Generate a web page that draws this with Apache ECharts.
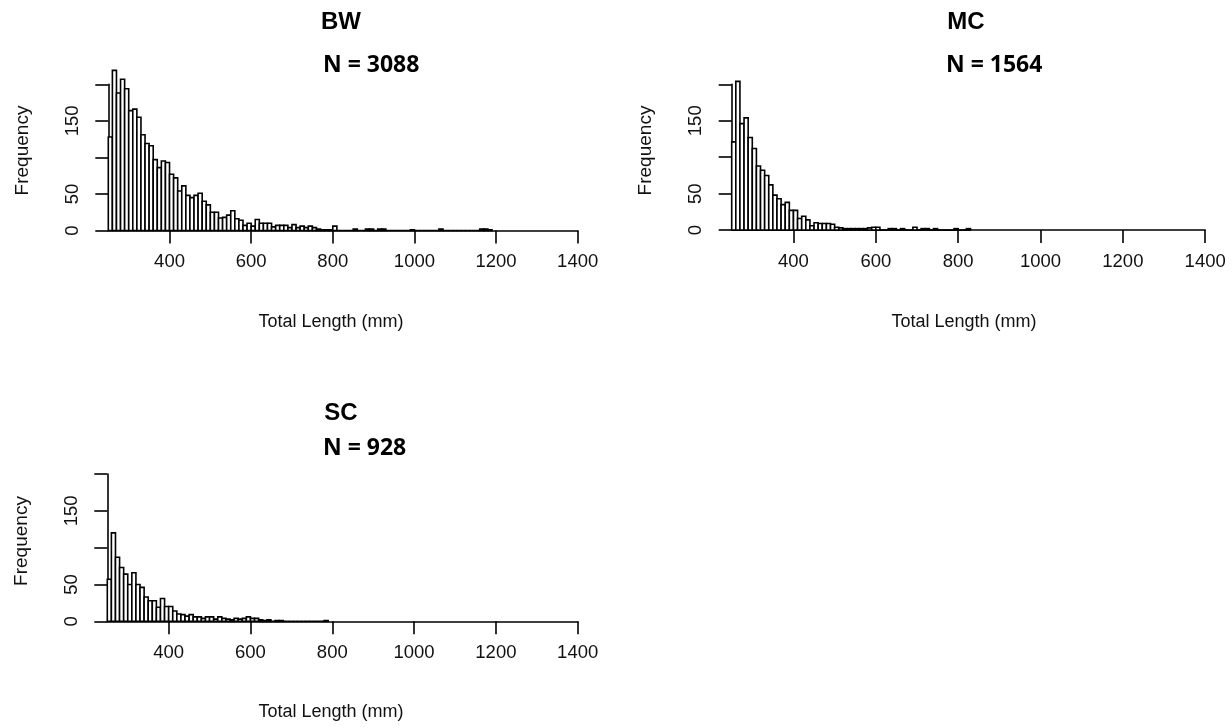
<!DOCTYPE html>
<html>
<head>
<meta charset="utf-8">
<script src="https://cdn.jsdelivr.net/npm/echarts@6/dist/echarts.min.js"></script>
<style>
html,body{margin:0;padding:0;background:#fff;}
#c{width:1232px;height:728px;}
</style>
</head>
<body>
<div id="c"></div>
<script>
// Histogram bins: 10 mm wide, first bin starts at 250 mm
const binStart = 250;
const binWidth = 10;
const panels = ['BW', 'MC', 'SC'];
const nLabels = ['N = 3088', 'N = 1564', 'N = 928'];
const xTicks = [400, 600, 800, 1000, 1200, 1400];
const yTicks = [0, 50, 100, 150, 200];
const yLabels = [0, 50, 150];
const xTitle = 'Total Length (mm)';
const yTitle = 'Frequency';

const countsBW = [128, 219, 188, 207, 194, 164, 166, 155, 131, 119, 116, 97, 86, 95, 93,
  77, 72, 54, 61, 48, 45, 48, 51, 40, 35,
  25, 25, 17, 18, 21, 27, 16, 14, 7, 10,
  6, 15, 10, 10, 10, 5, 7, 7, 7, 4,
  8, 4, 6, 4, 6, 4, 2, 1, 1, 1,
  6, 0, 0, 0, 0, 2, 0, 0, 2, 2,
  0, 2, 2, 0, 0, 0, 0, 0, 0, 1,
  0, 0, 0, 0, 0, 0, 2, 0, 0, 0,
  0, 0, 0, 0, 0, 0, 2, 2, 1];
const countsMC = [121, 204, 146, 154, 127, 112, 88, 82, 75, 62, 48, 43, 35, 38, 27,
  27, 16, 19, 14, 6, 10, 9, 9, 9, 8,
  4, 3, 2, 2, 2, 2, 2, 2, 3, 4,
  4, 0, 0, 2, 2, 0, 2, 0, 0, 4,
  0, 2, 2, 0, 2, 0, 0, 0, 0, 2,
  0, 0, 2];
const countsSC = [57, 120, 87, 73, 64, 50, 66, 50, 46, 33, 28, 28, 19, 31, 20,
  20, 14, 10, 9, 7, 9, 6, 6, 4, 6,
  6, 3, 6, 4, 3, 2, 4, 3, 4, 6,
  4, 4, 2, 1, 2, 0, 1, 1, 0, 0,
  0, 0, 0, 0, 0, 0, 0, 0, 1];
const allCounts = [countsBW, countsMC, countsSC];

// layout (pixels)
const grids = [
  {left: 108.3, top: 84.3, width: 469.4, height: 146.2},
  {left: 731.7, top: 84.3, width: 473.5, height: 145.8},
  {left: 107.3, top: 474.0, width: 470.4, height: 147.3}
];

const FONT = '"Liberation Sans", Arial, sans-serif';
const AX = '#000';
const LW = 1.6;

const option = {
  animation: false,
  backgroundColor: '#fff',
  grid: grids.map(g => Object.assign({containLabel: false, outerBoundsMode: 'none'}, g)),
  xAxis: grids.map((g, i) => ({
    type: 'value', gridIndex: i, min: 250, max: 1400,
    splitLine: {show: false},
    axisLine: {show: true, onZero: false, lineStyle: {color: AX, width: LW}},
    axisTick: {show: true, customValues: xTicks, length: 13, lineStyle: {color: AX, width: LW}},
    axisLabel: {show: true, customValues: xTicks, margin: 22, fontSize: 18.5, color: '#111', fontFamily: FONT,
      formatter: v => String(v)}
  })),
  yAxis: grids.map((g, i) => ({
    type: 'value', gridIndex: i, min: 0, max: 200, interval: 50,
    splitLine: {show: false},
    axisLine: {show: true, lineStyle: {color: AX, width: LW}},
    axisTick: {show: true, customValues: yTicks, length: 13, lineStyle: {color: AX, width: LW}},
    axisLabel: {show: true, customValues: yLabels, rotate: 90, margin: 26, fontSize: 18.5, color: '#111', fontFamily: FONT,
      formatter: v => String(v)}
  })),
  series: allCounts.map((counts, i) => ({
    type: 'custom',
    name: panels[i],
    xAxisIndex: i, yAxisIndex: i,
    clip: false,
    encode: {x: [0, 1], y: 2},
    data: counts.map((c, k) => [binStart + k * binWidth, binStart + (k + 1) * binWidth, c]),
    renderItem: function (params, api) {
      const p0 = api.coord([api.value(0), api.value(2)]);
      const p1 = api.coord([api.value(1), 0]);
      return {
        type: 'rect',
        shape: {x: p0[0], y: p0[1], width: p1[0] - p0[0], height: p1[1] - p0[1]},
        style: {fill: '#fff', stroke: '#000', lineWidth: LW}
      };
    }
  })),
  graphic: []
};

// titles and axis titles
const titlePos = [
  {tx: 341, ty: 22, nx: 323, ny: 65.5, xt: 331, xty: 322, yx: 23, yy: 150.5},
  {tx: 966, ty: 22, nx: 946, ny: 65.5, xt: 964, xty: 322, yx: 646, yy: 150.5},
  {tx: 341, ty: 413, nx: 323, ny: 448, xt: 331, xty: 712, yx: 22, yy: 541}
];
titlePos.forEach((p, i) => {
  option.graphic.push({type: 'text', x: p.tx, y: p.ty, style: {text: panels[i], font: 'bold 24px ' + FONT, fill: '#000', textAlign: 'center', textVerticalAlign: 'middle'}});
  option.graphic.push({type: 'text', x: p.nx, y: p.ny, style: {text: nLabels[i], font: 'bold 23px "Open Sans", "Noto Sans", sans-serif', fill: '#000', textAlign: 'left', textVerticalAlign: 'middle'}});
  option.graphic.push({type: 'text', x: p.xt, y: p.xty, style: {text: xTitle, font: '18px ' + FONT, fill: '#111', textAlign: 'center', textVerticalAlign: 'middle'}});
  option.graphic.push({type: 'text', x: p.yx, y: p.yy, rotation: Math.PI / 2, style: {text: yTitle, font: '19px ' + FONT, fill: '#111', textAlign: 'center', textVerticalAlign: 'middle'}});
});

const chart = echarts.init(document.getElementById('c'), null, {renderer: 'canvas'});
chart.setOption(option);
</script>
</body>
</html>
